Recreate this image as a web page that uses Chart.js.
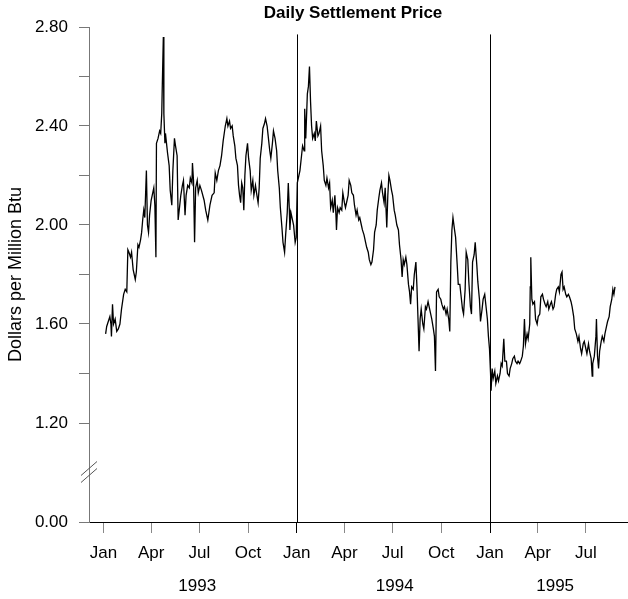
<!DOCTYPE html>
<html>
<head>
<meta charset="utf-8">
<script src="https://cdn.jsdelivr.net/npm/chart.js@4.4.1/dist/chart.umd.min.js"></script>
<style>
html, body { margin: 0; padding: 0; background: #fff; }
#wrap { width: 628px; height: 599px; }
</style>
</head>
<body>
<div id="wrap"><canvas id="myChart" width="628" height="599"></canvas></div>
<script>
// days counted from 1 Jan 1993, price in $ per million Btu
const days = [4,6,9,12,14,15,17,19,22,25,28,31,34,38,41,44,46,48,51,53,56,58,60,62,65,67,70,72,74,76,78,81,83,85,87,90,92,95,97,99,100,103,106,108,110,111,113,114,116,117,119,121,124,126,129,131,134,136,139,141,144,146,149,151,154,156,159,162,164,167,168,170,172,174,177,179,182,
  185,190,193,197,201,205,209,211,214,217,220,223,226,230,233,235,238,240,243,245,248,250,253,255,257,259,261,263,265,267,269,272,274,277,279,282,284,287,289,292,294,296,299,301,304,306,309,311,314,316,319,321,324,327,329,332,334,337,339,342,344,347,349,351,352,354,357,359,362,364,
  366,369,371,374,376,379,380,382,385,387,389,391,393,395,398,400,402,405,407,410,412,415,417,420,422,425,427,429,432,434,437,439,440,442,445,447,450,452,455,457,460,462,464,467,469,472,474,477,479,482,484,487,489,492,495,497,500,502,505,507,510,512,515,517,520,522,525,527,530,532,535,537,539,541,544,546,549,551,
  554,557,559,562,564,566,568,571,573,576,578,580,582,585,587,590,592,594,596,598,600,603,605,608,610,613,615,618,620,623,625,627,629,632,634,637,639,642,644,647,649,652,654,656,658,660,663,665,668,670,673,675,678,680,683,685,688,690,693,695,697,700,702,705,707,710,712,715,717,720,722,725,727,729,
  731,732,734,736,739,741,744,746,749,751,753,756,758,761,763,766,768,771,773,776,778,781,783,786,788,791,793,795,797,800,802,805,806,807,809,811,814,816,819,821,824,826,829,831,834,836,839,841,844,846,849,851,854,856,859,861,864,866,868,870,873,875,878,880,883,885,888,890,893,896,898,901,903,906,908,911,913,916,918,921,923,924,927,930,931,933,935,937,940,942,945,947,950,952,955,957,960,962,964,966];
const prices = [1.56,1.59,1.61,1.63,1.60,1.55,1.68,1.60,1.62,1.57,1.58,1.60,1.66,1.72,1.74,1.73,1.90,1.89,1.87,1.89,1.82,1.80,1.78,1.81,1.92,1.91,1.94,1.97,2.02,2.06,2.03,2.22,2.00,1.97,2.04,2.10,2.12,2.15,2.08,1.87,2.33,2.35,2.38,2.37,2.45,2.56,2.76,2.45,2.33,2.37,2.33,2.29,2.24,2.14,2.08,2.22,2.35,2.32,2.28,2.02,2.08,2.12,2.16,2.18,2.04,2.12,2.16,2.15,2.19,2.17,2.25,2.18,1.93,2.15,2.18,2.13,2.16,
  2.14,2.10,2.06,2.02,2.08,2.12,2.13,2.21,2.18,2.22,2.24,2.28,2.34,2.40,2.43,2.40,2.42,2.39,2.40,2.36,2.32,2.27,2.24,2.16,2.12,2.09,2.17,2.15,2.06,2.20,2.28,2.33,2.27,2.22,2.14,2.18,2.12,2.16,2.13,2.09,2.15,2.27,2.33,2.39,2.41,2.43,2.40,2.36,2.30,2.27,2.33,2.38,2.35,2.30,2.22,2.15,2.07,1.99,1.93,1.89,1.96,2.05,2.17,2.06,1.98,2.05,2.02,2.00,1.93,1.95,
  2.17,2.20,2.22,2.28,2.32,2.30,2.47,2.35,2.53,2.56,2.64,2.50,2.40,2.35,2.37,2.34,2.42,2.36,2.37,2.40,2.30,2.24,2.18,2.16,2.19,2.15,2.17,2.07,2.10,2.05,2.12,2.04,1.98,2.07,2.05,2.07,2.06,2.13,2.09,2.07,2.10,2.12,2.18,2.16,2.13,2.12,2.08,2.04,2.06,2.02,2.03,2.00,1.98,1.96,1.93,1.91,1.89,1.86,1.84,1.85,1.90,1.97,2.00,2.06,2.11,2.14,2.17,2.13,2.09,2.15,1.99,2.12,2.20,2.18,2.14,2.12,2.06,2.04,
  2.00,1.98,1.92,1.86,1.79,1.86,1.84,1.87,1.84,1.76,1.73,1.68,1.75,1.74,1.80,1.85,1.75,1.62,1.49,1.62,1.66,1.60,1.58,1.67,1.66,1.69,1.67,1.64,1.62,1.58,1.55,1.41,1.73,1.74,1.71,1.70,1.68,1.66,1.67,1.64,1.66,1.62,1.57,1.85,1.98,2.03,1.98,1.95,1.84,1.76,1.76,1.72,1.66,1.64,1.74,1.89,1.86,1.77,1.67,1.64,1.85,1.88,1.93,1.84,1.77,1.70,1.61,1.66,1.70,1.72,1.68,1.62,1.55,1.50,
  1.40,1.33,1.42,1.38,1.41,1.36,1.39,1.37,1.40,1.44,1.43,1.54,1.45,1.45,1.40,1.39,1.42,1.44,1.46,1.47,1.45,1.44,1.45,1.44,1.45,1.47,1.51,1.62,1.52,1.56,1.54,1.60,1.75,1.87,1.70,1.68,1.69,1.62,1.60,1.63,1.64,1.71,1.72,1.70,1.68,1.67,1.69,1.66,1.68,1.69,1.66,1.67,1.72,1.74,1.75,1.73,1.80,1.81,1.74,1.75,1.72,1.71,1.72,1.71,1.69,1.67,1.63,1.58,1.56,1.53,1.55,1.50,1.48,1.52,1.53,1.50,1.48,1.52,1.49,1.46,1.39,1.44,1.47,1.55,1.62,1.47,1.42,1.49,1.53,1.55,1.53,1.56,1.59,1.61,1.63,1.67,1.70,1.74,1.72,1.75];

const monthTicks = [0, 90, 181, 273, 365, 455, 546, 638, 730, 820, 911];
const monthNames = ['Jan', 'Apr', 'Jul', 'Oct', 'Jan', 'Apr', 'Jul', 'Oct', 'Jan', 'Apr', 'Jul'];
const yearNames = ['1993', '1994', '1995'];
const yearCenters = [177, 550, 853];
const yearStarts = [365, 730];
const priceTicks = [0.8, 1.2, 1.4, 1.6, 1.8, 2.0, 2.2, 2.4, 2.6, 2.8];
const priceLabels = ['0.00', '1.20', '', '1.60', '', '2.00', '', '2.40', '', '2.80'];
const breakValue = 1.0;
const dividerTop = 2.77;

Chart.defaults.font.family = "'Liberation Sans', Arial, sans-serif";
Chart.defaults.color = '#000';

const points = days.map((d, i) => ({ x: d, y: prices[i] }));

const extras = {
  id: 'extras',
  afterDraw(chart) {
    const ctx = chart.ctx;
    const xs = chart.scales.x;
    const ys = chart.scales.y;
    ctx.save();

    // title
    ctx.fillStyle = '#000';
    ctx.font = "bold 17px 'Liberation Sans', Arial, sans-serif";
    ctx.textAlign = 'center';
    ctx.textBaseline = 'middle';
    ctx.fillText('Daily Settlement Price', 353, 13);

    // year dividers
    ctx.strokeStyle = '#000';
    ctx.lineWidth = 1;
    yearStarts.forEach(d => {
      const px = Math.round(xs.getPixelForValue(d)) + 0.5;
      ctx.beginPath();
      ctx.moveTo(px, ys.getPixelForValue(dividerTop));
      ctx.lineTo(px, ys.bottom);
      ctx.stroke();
    });

    // year labels
    ctx.font = "17px 'Liberation Sans', Arial, sans-serif";
    yearNames.forEach((t, i) => {
      ctx.fillText(t, xs.getPixelForValue(yearCenters[i]), 586);
    });

    // axis break marks
    const bx = ys.right;
    const by = ys.getPixelForValue(breakValue);
    ctx.strokeStyle = '#555';
    [-4, 3].forEach(off => {
      ctx.beginPath();
      ctx.moveTo(bx - 8, by + 7 + off);
      ctx.lineTo(bx + 8, by - 7 + off);
      ctx.stroke();
    });
    ctx.restore();
  }
};

new Chart(document.getElementById('myChart'), {
  type: 'line',
  data: {
    datasets: [{
      data: points,
      borderColor: '#000',
      borderWidth: 1.3,
      pointRadius: 0,
      tension: 0,
      fill: false
    }]
  },
  options: {
    responsive: false,
    animation: false,
    devicePixelRatio: 1,
    layout: { padding: { top: 27, right: 0, bottom: 0, left: 0 } },
    plugins: { legend: { display: false }, tooltip: { enabled: false }, title: { display: false } },
    scales: {
      x: {
        type: 'linear',
        min: -27.4,
        max: 990.6,
        afterBuildTicks: s => { s.ticks = monthTicks.map(v => ({ value: v })); },
        afterFit: s => { s.height = 77; },
        ticks: {
          autoSkip: false,
          maxRotation: 0,
          padding: 10,
          font: { size: 17 },
          callback: (v) => monthNames[monthTicks.indexOf(v)]
        },
        grid: {
          drawOnChartArea: false,
          tickLength: 11,
          color: c => (c.tick && yearStarts.includes(c.tick.value)) ? '#000' : '#888'
        },
        border: { display: true, color: '#000', width: 1 }
      },
      y: {
        min: 0.8,
        max: 2.8,
        afterBuildTicks: s => { s.ticks = priceTicks.map(v => ({ value: v })); },
        afterFit: s => { s.width = 89; },
        ticks: {
          autoSkip: false,
          padding: 11,
          font: { size: 17 },
          callback: (v) => priceLabels[priceTicks.findIndex(p => Math.abs(p - v) < 1e-6)]
        },
        grid: { drawOnChartArea: false, tickLength: 10, color: '#777' },
        border: { display: true, color: '#777', width: 1 },
        title: {
          display: true,
          text: 'Dollars per Million Btu',
          font: { size: 18 },
          padding: { top: 5, bottom: 0 }
        }
      }
    }
  },
  plugins: [extras]
});
</script>
</body>
</html>
